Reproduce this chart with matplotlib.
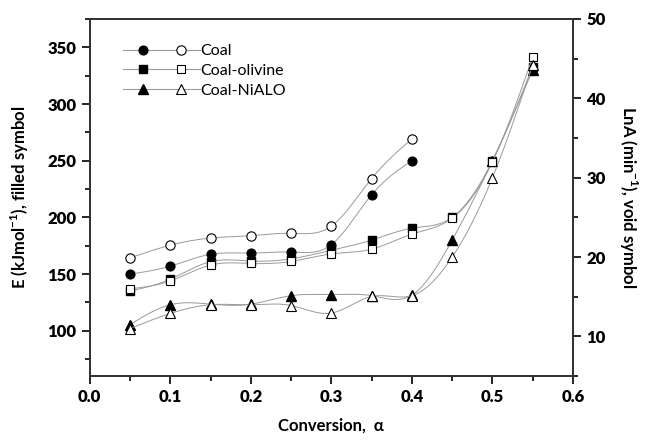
import numpy as np
import matplotlib.pyplot as plt
from matplotlib.lines import Line2D
from matplotlib.legend_handler import HandlerTuple
from matplotlib.ticker import MultipleLocator

plt.rcParams['font.family'] = ['Lato', 'DejaVu Sans']
plt.rcParams['mathtext.fontset'] = 'custom'
plt.rcParams['mathtext.rm'] = 'Lato'
plt.rcParams['mathtext.bf'] = 'Lato:bold'

conversion = [0.05, 0.10, 0.15, 0.20, 0.25, 0.30, 0.35, 0.40, 0.45, 0.50, 0.55]

# activation energy (filled symbols, left axis)
E_coal = [150, 157, 167.5, 168.5, 169.5, 176, 220, 250]
E_olivine = [135, 145.5, 161, 161.5, 163.5, 171, 180, 190.5, 200, 250, 333]
E_nialo = [105.5, 123, 123.5, 123.5, 131, 132, 131, 131.5, 180, 250, 330]

# pre-exponential factor (void symbols, right axis)
lnA_coal = [19.9, 21.5, 22.4, 22.7, 23.0, 23.9, 29.9, 34.9]
lnA_olivine = [16.0, 17.0, 19.0, 19.2, 19.45, 20.4, 21.0, 22.9, 24.9, 32.0, 45.2]
lnA_nialo = [11.0, 12.9, 14.0, 14.0, 13.9, 12.95, 15.05, 15.15, 20.0, 30.0, 44.2]

series = ['Coal', 'Coal-olivine', 'Coal-NiALO']
markers = ['o', 's', '^']
sizes = {'o': 6.3, 's': 5.6, '^': 6.8}


def spline(x, y, n=300):
    # natural cubic spline through the points, for the connecting line
    x = np.asarray(x, float)
    y = np.asarray(y, float)
    m = len(x)
    h = np.diff(x)
    A = np.zeros((m, m))
    b = np.zeros(m)
    A[0, 0] = A[-1, -1] = 1
    for i in range(1, m - 1):
        A[i, i - 1] = h[i - 1]
        A[i, i] = 2 * (h[i - 1] + h[i])
        A[i, i + 1] = h[i]
        b[i] = 3 * ((y[i + 1] - y[i]) / h[i] - (y[i] - y[i - 1]) / h[i - 1])
    c = np.linalg.solve(A, b)
    xs = np.linspace(x[0], x[-1], n)
    k = np.clip(np.searchsorted(x, xs) - 1, 0, m - 2)
    dx = xs - x[k]
    bb = (y[k + 1] - y[k]) / h[k] - h[k] * (2 * c[k] + c[k + 1]) / 3
    dd = (c[k + 1] - c[k]) / (3 * h[k])
    return xs, y[k] + bb * dx + c[k] * dx ** 2 + dd * dx ** 3


fig = plt.figure(figsize=(6.46, 4.41), dpi=100)
ax = fig.add_axes([0.139, 0.147, 0.748, 0.810])
ax2 = ax.twinx()

line_col = '#9a9a9a'
for name, mk, E, lnA in zip(series, markers,
                            [E_coal, E_olivine, E_nialo],
                            [lnA_coal, lnA_olivine, lnA_nialo]):
    x = conversion[:len(E)]
    ax.plot(*spline(x, E), color=line_col, lw=0.7, zorder=1)
    ax.plot(x, E, mk, color='black', ms=sizes[mk], zorder=2)
    x = conversion[:len(lnA)]
    ax2.plot(*spline(x, lnA), color=line_col, lw=0.7, zorder=1)
    ax2.plot(x, lnA, mk, mfc='white', mec='black', mew=0.8,
             ms=sizes[mk] + 0.4, zorder=2)

ax.set_xlim(0, 0.6)
ax.set_ylim(60, 375)
ax2.set_ylim(5, 50)

ax.xaxis.set_major_locator(MultipleLocator(0.1))
ax.xaxis.set_minor_locator(MultipleLocator(0.05))
ax.yaxis.set_major_locator(MultipleLocator(50))
ax.yaxis.set_minor_locator(MultipleLocator(25))
ax2.yaxis.set_major_locator(MultipleLocator(10))
ax2.yaxis.set_minor_locator(MultipleLocator(5))

for a in (ax, ax2):
    a.tick_params(which='major', length=6, width=1.2, labelsize=12, direction='out')
    a.tick_params(which='minor', length=3.5, width=1.2, direction='out')
    for s in a.spines.values():
        s.set_linewidth(1.3)
        s.set_color('#333333')
    for lab in a.get_xticklabels() + a.get_yticklabels():
        lab.set_fontweight('heavy')

ax.set_xlabel('Conversion,  α', fontsize=12, fontweight='bold', labelpad=9)
ax.set_ylabel(r'E (kJmol$^{\mathbf{-1}}$), filled symbol', fontsize=12,
              fontweight='bold', labelpad=12)
ax2.set_ylabel(r'LnA (min$^{\mathbf{-1}}$), void symbol', fontsize=12,
               fontweight='bold', rotation=270, labelpad=24)

handles = []
for mk in markers:
    filled = Line2D([], [], color=line_col, lw=0.8, marker=mk, mfc='black',
                    mec='black', ms=sizes[mk])
    hollow = Line2D([], [], color=line_col, lw=0.8, marker=mk, mfc='white',
                    mec='black', mew=0.8, ms=sizes[mk] + 0.4)
    handles.append((filled, hollow))
ax.legend(handles, series, handler_map={tuple: HandlerTuple(ndivide=2, pad=0)},
          handlelength=4.8, handletextpad=0.0, frameon=False, fontsize=11.5,
          loc='upper left', bbox_to_anchor=(0.04, 0.97), labelspacing=0.35)

fig.savefig('out.png', dpi=100)
